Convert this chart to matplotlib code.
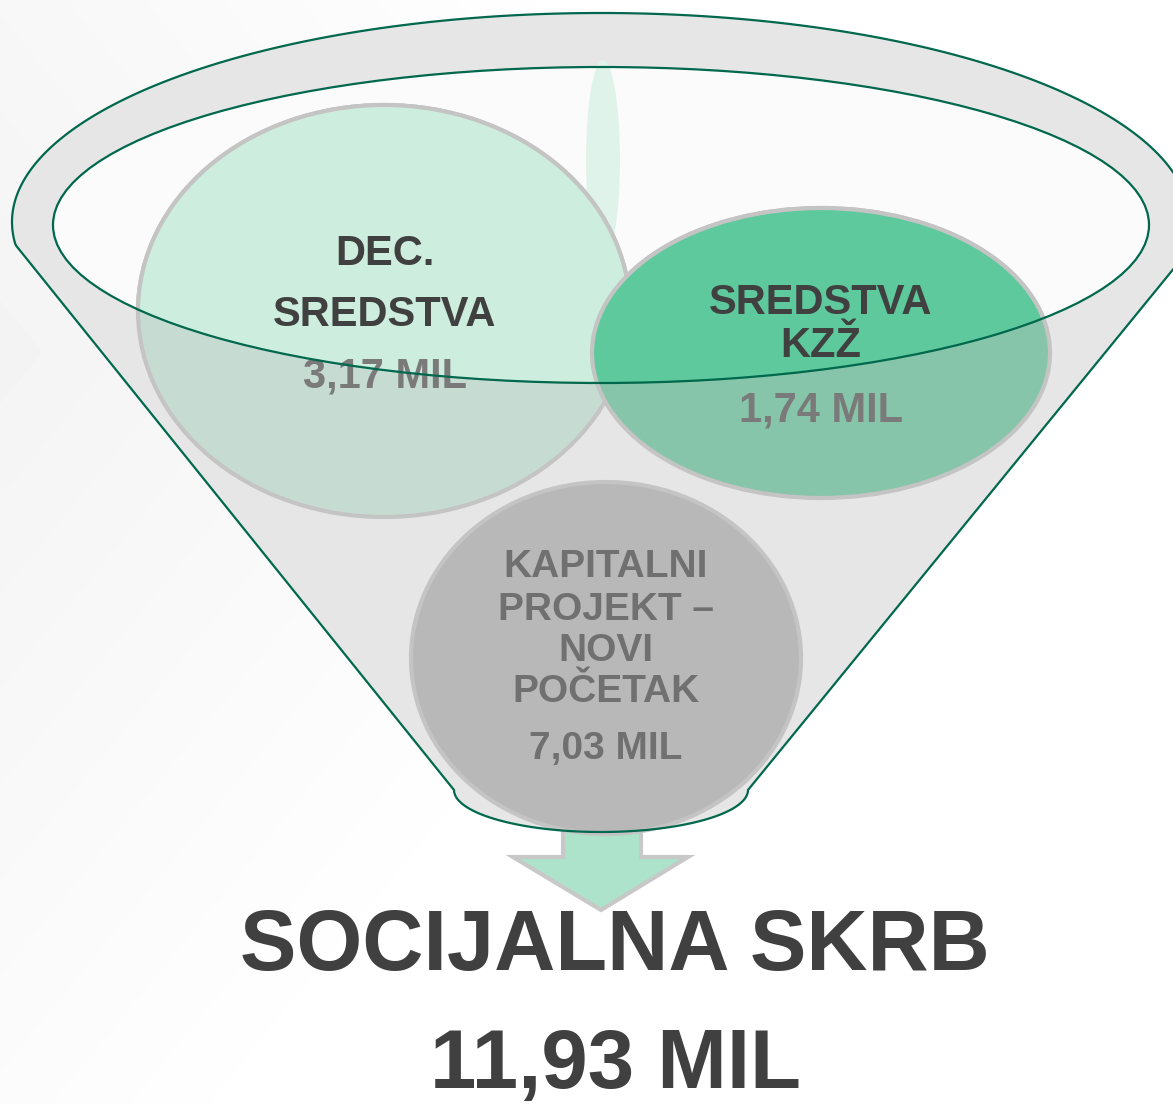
import matplotlib.pyplot as plt
import numpy as np
from matplotlib.patches import Ellipse, Polygon

plt.rcParams['font.family'] = ['Liberation Sans', 'DejaVu Sans']

# Funnel items
names = ['DEC.\nSREDSTVA', 'SREDSTVA\nKZŽ', 'KAPITALNI\nPROJEKT –\nNOVI\nPOČETAK']
values = [3.17, 1.74, 7.03]
total_name = 'SOCIJALNA SKRB'
total_value = 11.93

def fmt(v):
    return f'{v:.2f}'.replace('.', ',') + ' MIL'

W, H = 1173, 1104
fig = plt.figure(figsize=(W / 100, H / 100), dpi=100)
ax = fig.add_axes([0, 0, 1, 1])
ax.set_xlim(0, W)
ax.set_ylim(H, 0)
ax.axis('off')

# soft grey background fading to white
yy, xx = np.mgrid[0:H:4, 0:W:4]
shade = 0.955 + 0.045 * np.clip(xx / 900 + np.abs(yy - 350) / 1100, 0, 1)
ax.imshow(shade, cmap='gray', vmin=0, vmax=1, extent=[0, W, H, 0],
          interpolation='bilinear', zorder=0)

green = '#00684c'
ring_grey = '#e6e6e6'

# arrow under the funnel
arrow = Polygon([(563, 790), (641, 790), (641, 857), (688, 857), (601, 910),
                 (513, 857), (563, 857)], closed=True, facecolor='#ace3ca',
                edgecolor='#c8c8c8', lw=3, joinstyle='miter', zorder=1)
ax.add_patch(arrow)

# funnel outline: outer ellipse top arc + cone + rounded bottom
cx, cy, rx, ry = 601, 222, 589, 209
a_l = np.arcsin((245 - cy) / ry)
a_r = np.arcsin((262 - cy) / ry)
ang = np.linspace(np.pi + a_l, -a_r, 300)
arc_x = cx + rx * np.cos(ang)
arc_y = cy - ry * np.sin(ang)
bt = np.linspace(0, np.pi, 80)
bot_x = 601 + 147 * np.cos(bt)
bot_y = 790 + 42 * np.sin(bt)
funnel_pts = np.column_stack([np.concatenate([arc_x, bot_x]),
                              np.concatenate([arc_y, bot_y])])
ax.add_patch(Polygon(funnel_pts, closed=True, facecolor=ring_grey,
                     edgecolor='none', zorder=2))

inner = dict(xy=(601, 225), width=2 * 548, height=2 * 158)
ax.add_patch(Ellipse(**inner, facecolor='#fbfbfb', edgecolor='none', zorder=3))

# faint highlight inside the mouth
ax.add_patch(Ellipse((603, 160), 34, 200, facecolor='#e0f3eb',
                     edgecolor='none', zorder=4))

circles = [
    dict(xy=(384, 311), w=492, h=412, light='#cdeedf', dark='#c6dcd3'),
    dict(xy=(821, 353), w=458, h=290, light='#5ec99c', dark='#86c5a9'),
    dict(xy=(606, 658), w=390, h=352, light='#b8b8b8', dark='#b8b8b8'),
]
clip = Ellipse(**inner, transform=ax.transData)
for c in circles:
    ax.add_patch(Ellipse(c['xy'], c['w'], c['h'], facecolor=c['dark'],
                         edgecolor='#c4c4c4', lw=3, zorder=5))
    top = Ellipse(c['xy'], c['w'], c['h'], facecolor=c['light'],
                  edgecolor='#c4c4c4', lw=3, zorder=6)
    ax.add_patch(top)
    top.set_clip_path(clip)

dark_txt = '#404040'
val_txt = '#7a7a7a'

# DEC. SREDSTVA
for line, yb in zip(names[0].split('\n'), [265, 326]):
    ax.text(385, yb, line, ha='center', va='baseline', fontsize=30,
            fontweight='bold', color=dark_txt, zorder=8)
ax.text(385, 388, fmt(values[0]), ha='center', va='baseline', fontsize=30,
        fontweight='bold', color=val_txt, zorder=8)

# SREDSTVA KZZ
for line, yb in zip(names[1].split('\n'), [314, 357]):
    ax.text(821, yb, line, ha='center', va='baseline', fontsize=30,
            fontweight='bold', color=dark_txt, zorder=8)
ax.text(821, 421, fmt(values[1]), ha='center', va='baseline', fontsize=30,
        fontweight='bold', color=val_txt, zorder=8)

# KAPITALNI PROJEKT
for line, yb in zip(names[2].split('\n'), [577, 620, 661, 702]):
    ax.text(606, yb, line, ha='center', va='baseline', fontsize=28,
            fontweight='bold', color='#707070', zorder=8)
ax.text(606, 759, fmt(values[2]), ha='center', va='baseline', fontsize=28,
        fontweight='bold', color='#707070', zorder=8)

# outlines on top
ax.add_patch(Polygon(funnel_pts, closed=True, facecolor='none',
                     edgecolor=green, lw=1.6, zorder=9))
ax.add_patch(Ellipse(**inner, facecolor='none', edgecolor=green, lw=1.6,
                     zorder=9))

# total
ax.text(615, 970, total_name, ha='center', va='baseline', fontsize=61,
        fontweight='bold', color=dark_txt, zorder=10)
ax.text(615, 1088, fmt(total_value), ha='center', va='baseline', fontsize=60,
        fontweight='bold', color=dark_txt, zorder=10)

plt.savefig('out.png', dpi=100)
